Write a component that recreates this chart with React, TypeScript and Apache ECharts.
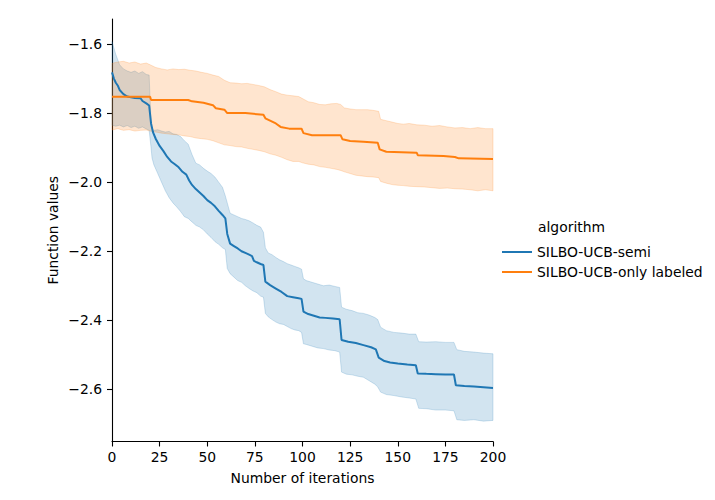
import React, { useEffect, useRef } from "react";
import * as echarts from "echarts";

// ---- Data ----
const xTicks = [0, 25, 50, 75, 100, 125, 150, 175, 200];
const yTicks = [-2.6, -2.4, -2.2, -2.0, -1.8, -1.6];

// SILBO-UCB-semi: mean line
const semiIter = [0, 1, 2, 3, 4, 6, 8, 12, 15, 16, 18, 19.5, 20.5, 21.5, 23, 25, 27, 29, 31, 33, 35, 37, 39, 40.5, 42, 44, 46, 48, 50, 52, 54, 56, 58, 59.5, 60.5, 62, 64, 66, 68, 70, 72, 73.5, 74.5, 76, 78, 79.5, 80.5, 83, 86, 89, 92, 95, 98, 99.5, 100.5, 103, 106, 109, 112, 116, 119.5, 120.5, 124, 128, 132, 136, 138.5, 140, 143, 146, 150, 155, 159.5, 160.5, 165, 170, 175, 179.5, 180.5, 185, 190, 195, 200];
const semiMean = [-1.682, -1.7, -1.712, -1.72, -1.733, -1.745, -1.752, -1.756, -1.757, -1.765, -1.772, -1.778, -1.83, -1.855, -1.875, -1.895, -1.91, -1.927, -1.94, -1.948, -1.957, -1.97, -1.978, -1.995, -2.008, -2.02, -2.03, -2.04, -2.052, -2.06, -2.07, -2.083, -2.095, -2.105, -2.15, -2.178, -2.185, -2.192, -2.2, -2.205, -2.21, -2.214, -2.228, -2.232, -2.237, -2.24, -2.288, -2.298, -2.308, -2.318, -2.33, -2.333, -2.336, -2.338, -2.375, -2.382, -2.387, -2.392, -2.393, -2.395, -2.397, -2.457, -2.462, -2.466, -2.472, -2.478, -2.484, -2.508, -2.518, -2.522, -2.525, -2.528, -2.53, -2.554, -2.555, -2.556, -2.557, -2.557, -2.588, -2.59, -2.592, -2.594, -2.596];

// SILBO-UCB-semi: confidence band
const semiBandIter = [0, 2, 4, 6, 8, 10, 12, 14, 16, 18, 19.5, 20.5, 21, 22, 24, 26, 28, 30, 32, 34, 36, 38, 40, 42, 44, 46, 48, 50, 52, 54, 56, 58, 59.5, 60.5, 62, 64, 66, 68, 70, 72, 74, 76, 78, 79.5, 80.5, 82, 84, 86, 88, 90, 92, 94, 96, 98, 99.5, 100.5, 102, 105, 108, 111, 114, 117, 119.5, 120.5, 123, 126, 129, 132, 135, 138, 139.5, 141, 144, 148, 152, 156, 159.5, 161, 165, 170, 175, 179.5, 181, 185, 190, 195, 200];
const semiUpper = [-1.593, -1.63, -1.66, -1.672, -1.678, -1.682, -1.678, -1.685, -1.68, -1.688, -1.69, -1.83, -1.845, -1.85, -1.848, -1.852, -1.855, -1.853, -1.86, -1.862, -1.868, -1.88, -1.89, -1.92, -1.945, -1.95, -1.96, -1.968, -1.975, -1.985, -2.0, -2.015, -2.04, -2.06, -2.09, -2.095, -2.1, -2.105, -2.108, -2.112, -2.118, -2.125, -2.13, -2.145, -2.19, -2.205, -2.21, -2.218, -2.225, -2.23, -2.236, -2.24, -2.244, -2.248, -2.252, -2.28, -2.285, -2.29, -2.295, -2.3, -2.298, -2.302, -2.305, -2.362, -2.368, -2.372, -2.378, -2.38, -2.385, -2.392, -2.398, -2.42, -2.43, -2.435, -2.437, -2.44, -2.44, -2.462, -2.463, -2.462, -2.464, -2.464, -2.485, -2.49, -2.492, -2.495, -2.497];
const semiLower = [-1.835, -1.838, -1.835, -1.84, -1.836, -1.842, -1.838, -1.844, -1.84, -1.846, -1.85, -1.9, -1.93, -1.95, -1.975, -2.0, -2.025, -2.045, -2.06, -2.072, -2.085, -2.1, -2.105, -2.115, -2.125, -2.13, -2.138, -2.15, -2.16, -2.172, -2.18, -2.19, -2.195, -2.25, -2.265, -2.275, -2.285, -2.29, -2.3, -2.308, -2.315, -2.32, -2.33, -2.333, -2.38, -2.39, -2.398, -2.405, -2.41, -2.412, -2.418, -2.424, -2.428, -2.43, -2.435, -2.468, -2.47, -2.475, -2.48, -2.482, -2.486, -2.488, -2.492, -2.55, -2.556, -2.558, -2.562, -2.565, -2.575, -2.585, -2.593, -2.608, -2.615, -2.618, -2.622, -2.625, -2.628, -2.655, -2.656, -2.66, -2.66, -2.662, -2.688, -2.69, -2.688, -2.692, -2.69];

// SILBO-UCB-only labeled: mean line
const onlyIter = [0, 20, 20.5, 40, 42, 48, 53, 54.5, 59, 60.5, 70, 79.5, 80.5, 86, 88.5, 93, 99.5, 100.5, 105, 120, 121, 125, 132, 139.5, 140.5, 144, 160, 160.5, 174, 180, 182, 200];
const onlyMean = [-1.753, -1.753, -1.762, -1.762, -1.766, -1.77, -1.777, -1.786, -1.79, -1.8, -1.8, -1.805, -1.815, -1.83, -1.84, -1.845, -1.845, -1.858, -1.864, -1.864, -1.876, -1.881, -1.883, -1.886, -1.905, -1.912, -1.915, -1.922, -1.924, -1.927, -1.931, -1.933];

// SILBO-UCB-only labeled: confidence band
const onlyBandIter = [0, 3, 6, 9, 12, 15, 18, 20, 23, 26, 29, 32, 35, 38, 41, 44, 47, 50, 53, 56, 59, 62, 65, 68, 71, 74, 77, 80, 83, 86, 89, 92, 95, 98, 100, 103, 106, 109, 112, 115, 118, 120, 122, 125, 128, 131, 134, 137, 140, 141, 144, 147, 150, 153, 156, 160, 164, 168, 172, 176, 180, 184, 188, 192, 196, 200];
const onlyUpper = [-1.656, -1.652, -1.65, -1.655, -1.652, -1.658, -1.655, -1.66, -1.668, -1.672, -1.675, -1.672, -1.674, -1.673, -1.676, -1.678, -1.682, -1.685, -1.69, -1.694, -1.705, -1.712, -1.713, -1.715, -1.714, -1.717, -1.72, -1.724, -1.732, -1.738, -1.745, -1.748, -1.75, -1.752, -1.758, -1.767, -1.77, -1.775, -1.776, -1.773, -1.772, -1.775, -1.785, -1.788, -1.79, -1.79, -1.79, -1.792, -1.795, -1.818, -1.822, -1.826, -1.83, -1.832, -1.83, -1.834, -1.835, -1.838, -1.836, -1.84, -1.843, -1.842, -1.845, -1.842, -1.845, -1.845];
const onlyLower = [-1.849, -1.845, -1.85, -1.848, -1.852, -1.85, -1.849, -1.852, -1.855, -1.858, -1.86, -1.862, -1.863, -1.866, -1.868, -1.872, -1.874, -1.876, -1.88, -1.886, -1.892, -1.894, -1.897, -1.898, -1.902, -1.905, -1.908, -1.912, -1.918, -1.922, -1.928, -1.935, -1.94, -1.94, -1.944, -1.948, -1.95, -1.955, -1.957, -1.96, -1.963, -1.966, -1.97, -1.975, -1.98, -1.982, -1.984, -1.985, -1.987, -1.998, -2.003, -2.007, -2.009, -2.01, -2.012, -2.013, -2.014, -2.016, -2.018, -2.017, -2.019, -2.02, -2.022, -2.025, -2.022, -2.025];

const seriesNames = ["SILBO-UCB-semi", "SILBO-UCB-only labeled"];
const legendTitle = "algorithm";
const xName = "Number of iterations";
const yName = "Function values";

const BLUE = "#1f77b4";
const ORANGE = "#ff7f0e";
const FONT = "DejaVu Sans";

function fmtMinus(v: number): string {
  const s = Math.abs(v).toFixed(1);
  return v < 0 ? "\u2212" + s : s;
}

function bandSeries(id: string, iters: number[], lower: number[], upper: number[], fill: string) {
  return {
    type: "custom",
    id,
    name: id,
    silent: true,
    z: 1,
    data: iters.map((x, i) => [x, lower[i], upper[i]]),
    encode: { x: 0, y: [1, 2] },
    renderItem: (params: any, api: any) => {
      if (params.dataIndex !== 0) return { type: "group", children: [] };
      const pts: number[][] = [];
      for (let i = 0; i < iters.length; i++) pts.push(api.coord([iters[i], upper[i]]));
      for (let i = iters.length - 1; i >= 0; i--) pts.push(api.coord([iters[i], lower[i]]));
      return {
        type: "polygon",
        shape: { points: pts },
        style: { fill, stroke: fill, lineWidth: 1 },
      };
    },
  };
}

export default function App() {
  const ref = useRef<HTMLDivElement>(null);
  useEffect(() => {
    if (!ref.current) return;
    const chart = echarts.init(ref.current, null, { renderer: "svg" });
    const axisText = { color: "#000", fontSize: 13.9, fontFamily: FONT };
    chart.setOption({
      animation: false,
      backgroundColor: "#fff",
      textStyle: { fontFamily: FONT },
      grid: { left: 112, top: 19, right: 222, bottom: 58.5, outerBoundsMode: "none" },
      xAxis: {
        type: "value",
        min: 0,
        max: 200,
        interval: 25,
        name: xName,
        nameLocation: "middle",
        nameGap: 29,
        nameMoveOverlap: false,
        nameTextStyle: axisText,
        axisLine: { show: true, onZero: false, lineStyle: { color: "#000", width: 1.1 } },
        axisTick: { show: true, length: 5, lineStyle: { color: "#000", width: 1.1 }, customValues: xTicks },
        axisLabel: { ...axisText, margin: 8, customValues: xTicks, formatter: (v: number) => String(v) },
        splitLine: { show: false },
      },
      yAxis: {
        type: "value",
        min: -2.751,
        max: -1.5275,
        name: yName,
        nameLocation: "middle",
        nameGap: 52,
        nameRotate: 90,
        nameMoveOverlap: false,
        nameTextStyle: axisText,
        axisLine: { show: true, onZero: false, lineStyle: { color: "#000", width: 1.1 } },
        axisTick: { show: true, length: 5, lineStyle: { color: "#000", width: 1.1 }, customValues: yTicks },
        axisLabel: { ...axisText, margin: 10, customValues: yTicks, formatter: (v: number) => fmtMinus(v) },
        splitLine: { show: false },
      },
      legend: {
        data: seriesNames,
        orient: "vertical",
        left: 497,
        top: 240,
        icon: "rect",
        itemWidth: 30,
        itemHeight: 2,
        itemGap: 6,
        textStyle: { color: "#000", fontSize: 13.9, fontFamily: FONT },
        selectedMode: false,
      },
      graphic: [
        {
          type: "text",
          left: 538,
          top: 220,
          style: { text: legendTitle, fill: "#000", font: `13.9px "${FONT}"` },
        },
      ],
      series: [
        bandSeries("semi-band", semiBandIter, semiLower, semiUpper, "rgba(31,119,180,0.2)"),
        bandSeries("only-band", onlyBandIter, onlyLower, onlyUpper, "rgba(255,127,14,0.2)"),
        {
          type: "line",
          name: seriesNames[0],
          data: semiIter.map((x, i) => [x, semiMean[i]]),
          symbol: "none",
          z: 3,
          color: BLUE,
          lineStyle: { color: BLUE, width: 2 },
        },
        {
          type: "line",
          name: seriesNames[1],
          data: onlyIter.map((x, i) => [x, onlyMean[i]]),
          symbol: "none",
          z: 3,
          color: ORANGE,
          lineStyle: { color: ORANGE, width: 2 },
        },
      ],
    });
    return () => chart.dispose();
  }, []);
  return (
    <div
      ref={ref}
      style={{ position: "absolute", left: 0, top: 0, width: 715, height: 500, background: "#fff" }}
    />
  );
}
